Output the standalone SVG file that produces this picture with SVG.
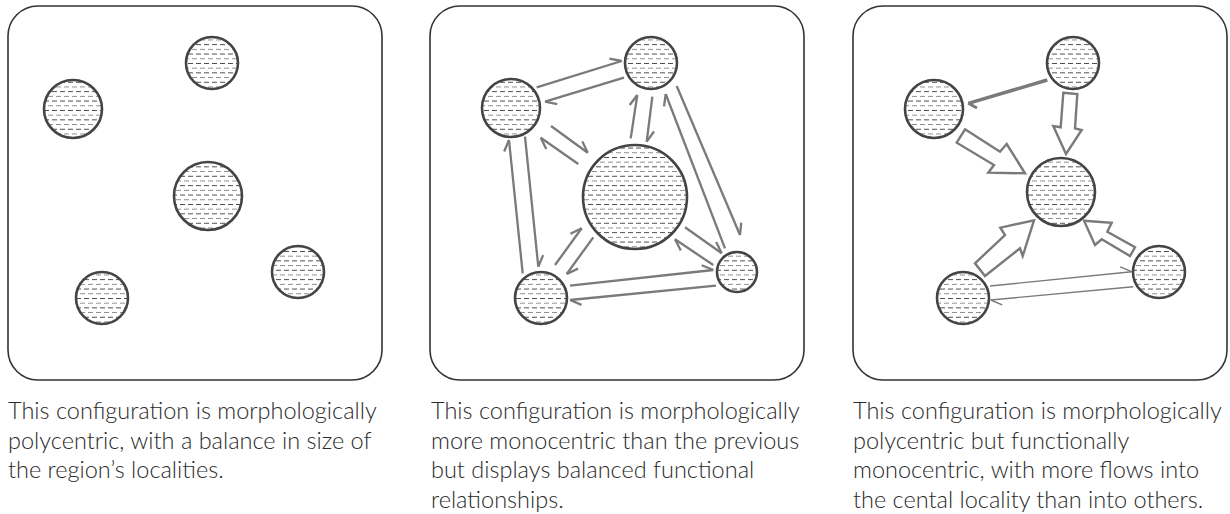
<svg xmlns="http://www.w3.org/2000/svg" width="1230" height="514" viewBox="0 0 1230 514">
<style>
.panel{fill:#fff;stroke:#333;stroke-width:1.6}
.loc{fill:url(#dash);stroke:#444;stroke-width:2.6}
.flow{stroke:#7a7a7a;stroke-width:2.3;fill:none;marker-end:url(#hp)}
.thin{stroke:#7a7a7a;stroke-width:1.4;fill:none;marker-end:url(#hpt)}
.thick{stroke:#7a7a7a;stroke-width:3.4;fill:none;marker-end:url(#hpk)}
.block{fill:#fff;stroke:#7a7a7a;stroke-width:2.4;stroke-linejoin:miter}
.cap{font-family:Lato,"Open Sans",sans-serif;font-weight:300;font-size:23.5px;fill:#2a2a2a}
</style>
<defs>
<pattern id="dash" patternUnits="userSpaceOnUse" width="16" height="9.4">
<rect width="16" height="9.4" fill="#fff"/>
<path d="M0,2.3H5M8,2.3H13" stroke="#8a8a8a" stroke-width="1"/>
<path d="M4,7H9M12,7H17M-4,7H1" stroke="#444" stroke-width="1"/>
</pattern>
<marker id="hp" markerUnits="userSpaceOnUse" orient="auto" markerWidth="24" markerHeight="24" viewBox="-16 -12 24 24" refX="0" refY="0" overflow="visible">
<path d="M-11,-6L0,0" stroke="#7a7a7a" stroke-width="2.3" fill="none"/>
</marker>
<marker id="hpt" markerUnits="userSpaceOnUse" orient="auto" markerWidth="24" markerHeight="24" viewBox="-16 -12 24 24" refX="0" refY="0" overflow="visible">
<path d="M-11,-6L0,0" stroke="#7a7a7a" stroke-width="1.4" fill="none"/>
</marker>
<marker id="hpk" markerUnits="userSpaceOnUse" orient="auto" markerWidth="24" markerHeight="24" viewBox="-16 -12 24 24" refX="0" refY="0" overflow="visible">
<path d="M-7,-7L0,0" stroke="#7a7a7a" stroke-width="3" fill="none"/>
</marker>
</defs>

<g id="panel1">
<rect class="panel" x="8" y="6" width="374" height="374" rx="30"/>
<circle id="p1-top" class="loc" cx="212" cy="63" r="26"/>
<circle id="p1-left" class="loc" cx="73" cy="109" r="29"/>
<circle id="p1-center" class="loc" cx="208" cy="196" r="34"/>
<circle id="p1-bottom" class="loc" cx="102" cy="298" r="26"/>
<circle id="p1-right" class="loc" cx="298" cy="272" r="26"/>
</g>

<g id="panel2">
<rect class="panel" x="430" y="6" width="374" height="374" rx="30"/>
<circle id="p2-top" class="loc" cx="651" cy="63" r="26"/>
<circle id="p2-left" class="loc" cx="511" cy="108" r="29"/>
<circle id="p2-center" class="loc" cx="635" cy="197" r="52"/>
<circle id="p2-bottom" class="loc" cx="541" cy="298" r="26"/>
<circle id="p2-right" class="loc" cx="737" cy="272" r="20"/>
</g>

<g id="panel3">
<rect class="panel" x="853" y="6" width="374" height="374" rx="30"/>
<circle id="p3-top" class="loc" cx="1073" cy="63" r="26"/>
<circle id="p3-left" class="loc" cx="934" cy="109" r="29"/>
<circle id="p3-center" class="loc" cx="1061" cy="192" r="34"/>
<circle id="p3-bottom" class="loc" cx="963" cy="298" r="26"/>
<circle id="p3-right" class="loc" cx="1159" cy="272" r="26"/>
</g>

<g id="connectors">
<line class="flow" x1="536.7" y1="87.3" x2="621.7" y2="61"/>
<line class="flow" x1="624" y1="77.7" x2="545" y2="101.7"/>
<line class="flow" x1="551" y1="126" x2="587.7" y2="152.7"/>
<line class="flow" x1="578.3" y1="164" x2="540.7" y2="137.7"/>
<line class="flow" x1="630.7" y1="138.3" x2="637.3" y2="95"/>
<line class="flow" x1="652.3" y1="96.7" x2="646.7" y2="141.7"/>
<line class="flow" x1="725" y1="248.3" x2="665.7" y2="94"/>
<line class="flow" x1="676.7" y1="86" x2="740" y2="235"/>
<line class="flow" x1="685" y1="227.3" x2="721.7" y2="253.3"/>
<line class="flow" x1="713.3" y1="265" x2="675" y2="239.3"/>
<line class="flow" x1="570" y1="285.7" x2="713.3" y2="270"/>
<line class="flow" x1="716" y1="285.7" x2="570" y2="300"/>
<line class="flow" x1="525" y1="136.7" x2="538.3" y2="266.7"/>
<line class="flow" x1="522.7" y1="273.3" x2="509" y2="140"/>
<line class="flow" x1="555" y1="265" x2="581.7" y2="228.3"/>
<line class="flow" x1="593.3" y1="237.3" x2="566.7" y2="274"/>
<line class="thick" x1="1047.3" y1="80" x2="968.3" y2="103.3"/>
<polygon class="block" points="1063.3,92.7 1077.3,94 1075,128.3 1081.7,130 1066,154 1053.3,126 1060.7,127.3"/>
<polygon class="block" points="965,129.3 1000,151.7 1006.7,144 1025,173.3 988.3,172.7 994,165 956.7,142.7"/>
<polygon class="block" points="975,263.3 1005,235 1000.3,227.7 1034,220.3 1022.7,256 1020,248.3 985,276"/>
<polygon class="block" points="1084,220.7 1111.7,222.7 1107.3,231.7 1135,247.3 1130,256 1101.7,239.3 1095,245"/>
<line class="thin" x1="990" y1="286" x2="1131.7" y2="271.7"/>
<line class="thin" x1="1133.3" y1="286.7" x2="990.7" y2="300"/>
</g>

<g id="captions">
<text class="cap" x="8" y="419">This configuration is morphologically</text>
<text class="cap" x="8" y="449">polycentric, with a balance in size of</text>
<text class="cap" x="8" y="478">the region’s localities.</text>
<text class="cap" x="431" y="419">This configuration is morphologically</text>
<text class="cap" x="431" y="449">more monocentric than the previous</text>
<text class="cap" x="431" y="478">but displays balanced functional</text>
<text class="cap" x="431" y="508">relationships.</text>
<text class="cap" x="853" y="419">This configuration is morphologically</text>
<text class="cap" x="853" y="449">polycentric but functionally</text>
<text class="cap" x="853" y="478">monocentric, with more flows into</text>
<text class="cap" x="853" y="508">the cental locality than into others.</text>
</g>
</svg>
